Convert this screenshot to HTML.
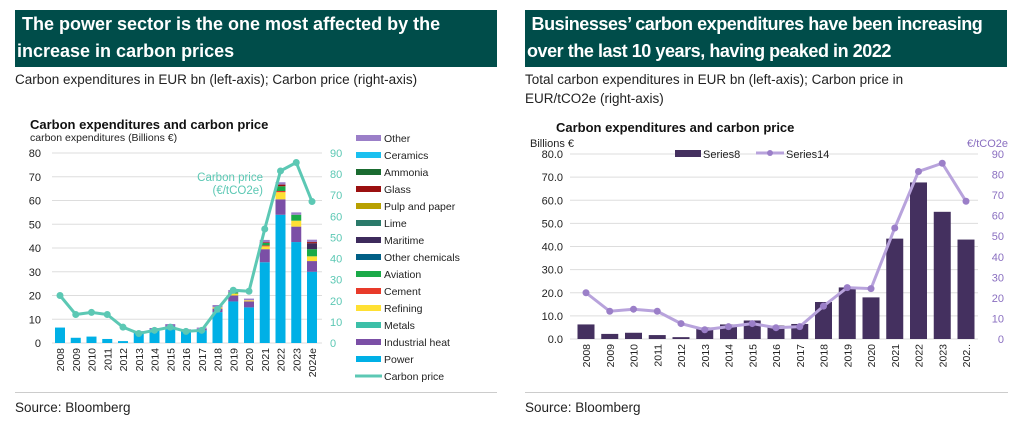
<!DOCTYPE html>
<html><head><meta charset="utf-8"><style>
body{margin:0;width:1018px;height:428px;background:#fff;font-family:"Liberation Sans",sans-serif;overflow:hidden;position:relative}
.hdr{position:absolute;background:#004d4a;color:#fff;font-weight:bold;font-size:18px;line-height:27px;padding:1px 3px 2px 2px;box-sizing:border-box;white-space:nowrap;overflow:hidden}
.sub{position:absolute;font-size:13.5px;color:#222;line-height:19px}
.sep{position:absolute;height:1px;background:#ccc}
.src{position:absolute;font-size:13.5px;color:#222}
svg{position:absolute;left:0;top:0}
</style></head><body>
<div class="hdr" style="left:15px;top:10px;width:482px;height:57px">&nbsp;The power sector is the one most affected by the<br>increase in carbon prices</div>
<div class="sub" style="left:15px;top:70px">Carbon expenditures in EUR bn (left-axis); Carbon price (right-axis)</div>
<div class="hdr" style="left:525px;top:10px;width:482px;height:57px;letter-spacing:-0.45px">&nbsp;Businesses’ carbon expenditures have been increasing<br>over the last 10 years, having peaked in 2022</div>
<div class="sub" style="left:525px;top:70px">Total carbon expenditures in EUR bn (left-axis); Carbon price in<br>EUR/tCO2e (right-axis)</div>
<div class="sep" style="left:15px;top:392px;width:482px"></div>
<div class="sep" style="left:525px;top:392px;width:483px"></div>
<div class="src" style="left:15px;top:400px">Source: Bloomberg</div>
<div class="src" style="left:525px;top:400px">Source: Bloomberg</div>
<svg id="c" width="1018" height="428"></svg>
<script>
const years=["2008","2009","2010","2011","2012","2013","2014","2015","2016","2017","2018","2019","2020","2021","2022","2023","2024e"];
const power=[6.5,2.2,2.7,1.7,0.8,4.5,5.8,7,5.3,5.3,13,17.5,15,34,54,42.5,30];
const industrialHeat=[0,0,0,0,0,0.3,0.3,0.5,0.3,0.7,1.5,2.5,2.5,5.5,6.5,6.5,4.5];
const refining=[0,0,0,0,0,0,0,0,0,0,0.5,0.8,0.5,1.2,3,2.5,2];
const cement=[0,0,0,0,0,0,0,0,0,0,0,0,0,0.4,0.5,0,0];
const aviation=[0,0,0,0,0,0,0,0,0,0,0,0.5,0,1,2,2.5,3];
const maritime=[0,0,0,0,0,0,0,0,0,0,0,0,0,0,0,0,2.5];
const glass=[0,0,0,0,0,0,0,0,0,0,0,0,0,0.3,0.7,0,0.5];
const other=[0,0,0,0,0,0.2,0.2,0.5,0.2,0.5,1,1,0.7,1,1,1,1];
const carbonPrice=[22.5,13.5,14.5,13.5,7.5,4.5,6,7.5,5.5,6,16,25,24.5,54,81.5,85.5,67];
const totals=[6.3,2.2,2.7,1.7,0.8,5,6.3,8,5.8,6.5,16,22.3,18,43.4,67.7,55,43];
const leftTicks=[0,10,20,30,40,50,60,70,80];
const rightTicks=[0,10,20,30,40,50,60,70,80,90];
const legendNames=["Other","Ceramics","Ammonia","Glass","Pulp and paper","Lime","Maritime","Other chemicals","Aviation","Cement","Refining","Metals","Industrial heat","Power"];
const legendColors=["#9b7fc8","#1ac0f0","#1a6b30","#9b1010","#b8a000","#2a7a6a","#3d2a5c","#005f86","#1aaa48","#e83a2a","#ffe033","#3cbfa8","#7b4fa6","#00b0e6"];
const NS="http://www.w3.org/2000/svg",svg=document.getElementById('c');
function el(t,a,txt){const e=document.createElementNS(NS,t);for(const k in a)e.setAttribute(k,a[k]);if(txt!==undefined)e.textContent=txt;svg.appendChild(e);return e;}
// ---------- left chart ----------
const L={x0:52,x1:322,y0:343,y1:153,ymax:80,rmax:90};
const lx=i=>60+i*15.75, ly=v=>L.y0-(v/L.ymax)*(L.y0-L.y1), lr=v=>L.y0-(v/L.rmax)*(L.y0-L.y1);
let t;
t=el('text',{x:30,y:129,'font-size':13,'font-weight':'bold',fill:'#111'},'Carbon expenditures and carbon price');
t=el('text',{x:30,y:141,'font-size':10.5,fill:'#222'},'carbon expenditures (Billions €)');
leftTicks.forEach(v=>{const g=el('line',{x1:L.x0,x2:L.x1,y1:ly(v),y2:ly(v),stroke:'#ddd','stroke-width':1});
 const tx=el('text',{x:41,y:ly(v)+4,'font-size':11,'text-anchor':'end',fill:'#222'},v);});
rightTicks.forEach(v=>{const tx=el('text',{x:330,y:lr(v)+4,'font-size':11,fill:'#5cc8b4'},v);});
const stack=[[power,"#00b0e6"],[industrialHeat,"#7b4fa6"],[refining,"#ffe033"],[cement,"#e83a2a"],[aviation,"#1aaa48"],[maritime,"#3d2a5c"],[glass,"#9b1010"],[other,"#9b7fc8"]];
years.forEach((y,i)=>{let acc=0;stack.forEach(([arr,c])=>{const v=arr[i];if(v>0){const r=el('rect',{x:lx(i)-5,y:ly(acc+v),width:10,height:ly(acc)-ly(acc+v),fill:c});}acc+=v;});
 const tx=el('text',{transform:`translate(${lx(i)+4},348) rotate(-90)`,'font-size':10.5,'text-anchor':'end',fill:'#222'},y);});
let p=el('polyline',{points:carbonPrice.map((v,i)=>lx(i)+','+lr(v)).join(' '),fill:'none',stroke:'#5cc8b4','stroke-width':3});
carbonPrice.forEach((v,i)=>{const c=el('circle',{cx:lx(i),cy:lr(v),r:3.5,fill:'#5cc8b4'});});
t=el('text',{x:263,y:181,'font-size':11.5,'text-anchor':'end',fill:'#5cc8b4'},'Carbon price');
t=el('text',{x:263,y:194,'font-size':11.5,'text-anchor':'end',fill:'#5cc8b4'},'(€/tCO2e)');
legendNames.forEach((n,i)=>{const yy=138+i*17;const r=el('rect',{x:356,y:yy-3,width:25,height:6,fill:legendColors[i]});
 const tx=el('text',{x:384,y:yy+4,'font-size':10.5,fill:'#222'},n);});
{const yy=138+14*17;const l=el('line',{x1:355,x2:382,y1:yy,y2:yy,stroke:'#5cc8b4','stroke-width':3});
 const tx=el('text',{x:384,y:yy+4,'font-size':10.5,fill:'#222'},'Carbon price');}
// ---------- right chart ----------
const R={x0:570,x1:978,y0:339,y1:154,ymax:80,rmax:90};
const rx=i=>586+i*23.75, ry=v=>R.y0-(v/R.ymax)*(R.y0-R.y1), rr=v=>R.y0-(v/R.rmax)*(R.y0-R.y1);
t=el('text',{x:556,y:132,'font-size':13,'font-weight':'bold',fill:'#111'},'Carbon expenditures and carbon price');
t=el('text',{x:530,y:147,'font-size':11,fill:'#222'},'Billions €');
t=el('text',{x:1008,y:147,'font-size':11,'text-anchor':'end',fill:'#8a6fc0'},'€/tCO2e');
leftTicks.forEach(v=>{const g=el('line',{x1:R.x0,x2:R.x1,y1:ry(v),y2:ry(v),stroke:'#ddd','stroke-width':1});
 const tx=el('text',{x:563,y:ry(v)+4,'font-size':11,'text-anchor':'end',fill:'#222'},v.toFixed(1));});
rightTicks.forEach(v=>{const tx=el('text',{x:1004,y:rr(v)+4,'font-size':11,'text-anchor':'end',fill:'#8a6fc0'},v);});
years.forEach((y,i)=>{const r=el('rect',{x:rx(i)-8.5,y:ry(totals[i]),width:17,height:R.y0-ry(totals[i]),fill:'#44305f'});
 const tx=el('text',{transform:`translate(${rx(i)+4},344) rotate(-90)`,'font-size':10.5,'text-anchor':'end',fill:'#222'},i==16?'202..':y);});
p=el('polyline',{points:carbonPrice.map((v,i)=>rx(i)+','+rr(v)).join(' '),fill:'none',stroke:'#b8a3dc','stroke-width':3});
carbonPrice.forEach((v,i)=>{const c=el('circle',{cx:rx(i),cy:rr(v),r:3.5,fill:'#9b7fc8'});});
t=el('rect',{x:675,y:150,width:26,height:7,fill:'#44305f'});
t=el('text',{x:703,y:158,'font-size':11,fill:'#222'},'Series8');
t=el('line',{x1:756,x2:784,y1:153,y2:153,stroke:'#b8a3dc','stroke-width':3});
t=el('circle',{cx:770,cy:153,r:3,fill:'#9b7fc8'});
t=el('text',{x:786,y:158,'font-size':11,fill:'#222'},'Series14');
</script>
</body></html>
